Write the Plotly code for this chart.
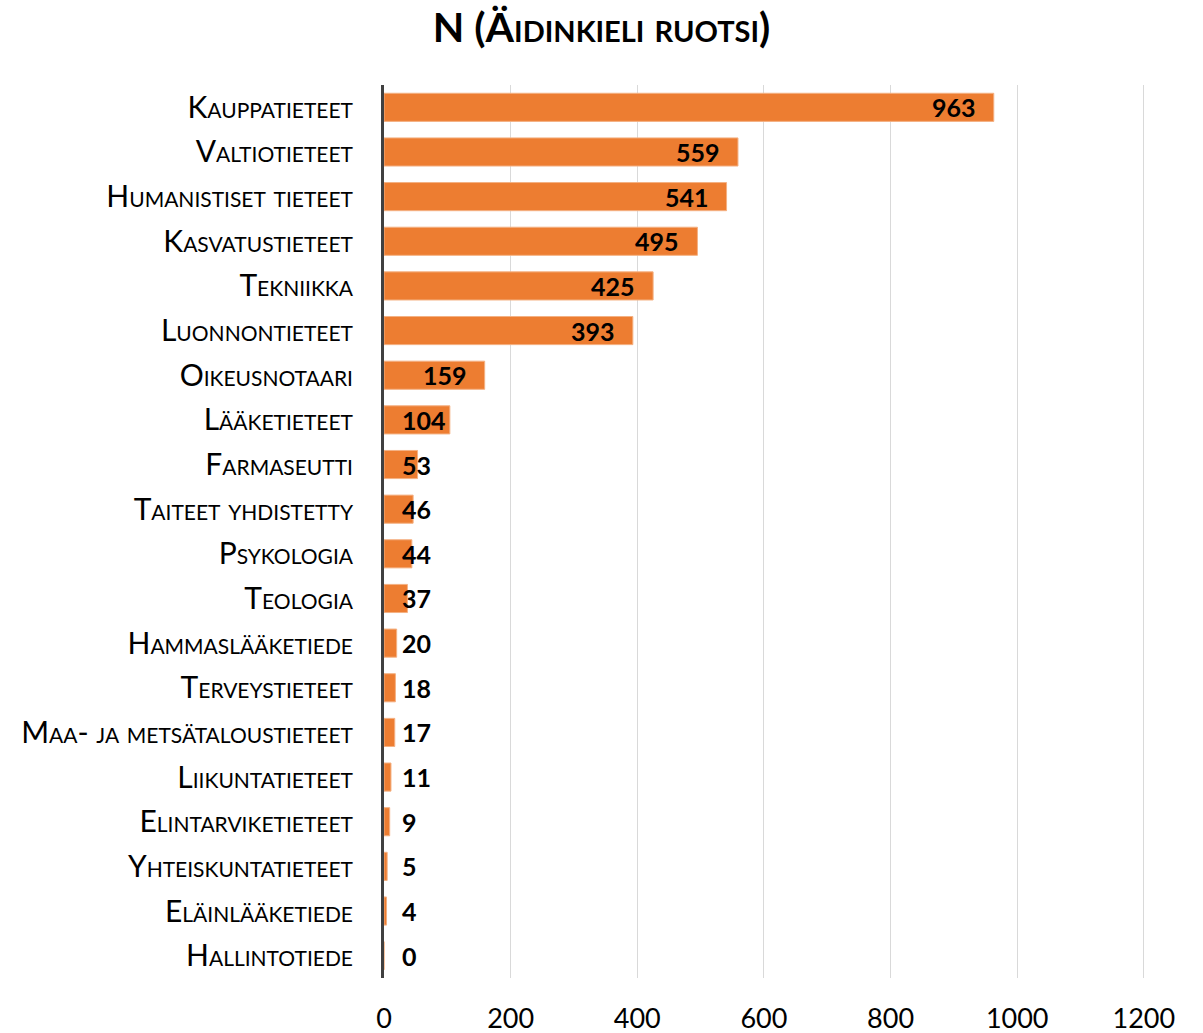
import plotly.graph_objects as go

categories = ["Kauppatieteet", "Valtiotieteet", "Humanistiset tieteet", "Kasvatustieteet",
              "Tekniikka", "Luonnontieteet", "Oikeusnotaari", "Lääketieteet", "Farmaseutti",
              "Taiteet yhdistetty", "Psykologia", "Teologia", "Hammaslääketiede",
              "Terveystieteet", "Maa- ja metsätaloustieteet", "Liikuntatieteet",
              "Elintarviketieteet", "Yhteiskuntatieteet", "Eläinlääketiede", "Hallintotiede"]
values = [963, 559, 541, 495, 425, 393, 159, 104, 53, 46, 44, 37, 20, 18, 17, 11, 9, 5, 4, 0]
x_ticks = [0, 200, 400, 600, 800, 1000, 1200]

FONT = "Lato"
fig = go.Figure(go.Bar(
    x=values, y=categories, orientation="h",
    marker=dict(color="#ED7D31", line=dict(color="#F4B183", width=1)),
    hoverinfo="skip",
))

# data labels: inside end (16px padding) when they fit, otherwise starting 16px from the axis
px_per_unit = 760 / 1200
PAD = 16
annotations = []
for c, v in zip(categories, values):
    txt = str(v)
    tw = len(txt) * 14.8
    lab_font = dict(family=FONT, size=25, color="black", weight="bold")
    if v * px_per_unit - PAD - tw >= PAD:
        annotations.append(dict(x=v, y=c, text=txt, xanchor="right", xshift=-PAD,
                                showarrow=False, font=lab_font))
    else:
        annotations.append(dict(x=0, y=c, text=txt, xanchor="left", xshift=PAD,
                                showarrow=False, font=lab_font))

fig.update_layout(
    width=1203, height=1033,
    margin=dict(l=384, r=56, t=85, b=55, autoexpand=False),
    paper_bgcolor="white", plot_bgcolor="white",
    bargap=0.37,
    showlegend=False,
    title=dict(text="N (Äidinkieli ruotsi)", x=0.5, xanchor="center", y=0.973, yanchor="middle",
               xref="container", yref="container",
               font=dict(family=FONT, size=41, color="black", weight="bold", variant="small-caps")),
    annotations=annotations,
    xaxis=dict(range=[0, 1205], tickvals=x_ticks, ticktext=[str(t) for t in x_ticks],
               showgrid=True, gridcolor="#D9D9D9", gridwidth=1, zeroline=False,
               showline=False, ticks="", ticklabelstandoff=22, automargin=False,
               tickfont=dict(family=FONT, size=27, color="black")),
    yaxis=dict(autorange="reversed", showgrid=False, zeroline=False,
               showline=True, linecolor="#404040", linewidth=3, ticks="",
               ticklabelstandoff=22, automargin=False,
               tickfont=dict(family=FONT, size=30, color="black", variant="small-caps")),
)
fig.write_html("out.html", config={"displayModeBar": False})

# remove default page margin so the figure sits at the window's top-left corner
with open("out.html", "r", encoding="utf-8") as f:
    html = f.read()
html = html.replace("<head>", "<head><style>html,body{margin:0;padding:0;}</style>", 1)
with open("out.html", "w", encoding="utf-8") as f:
    f.write(html)
